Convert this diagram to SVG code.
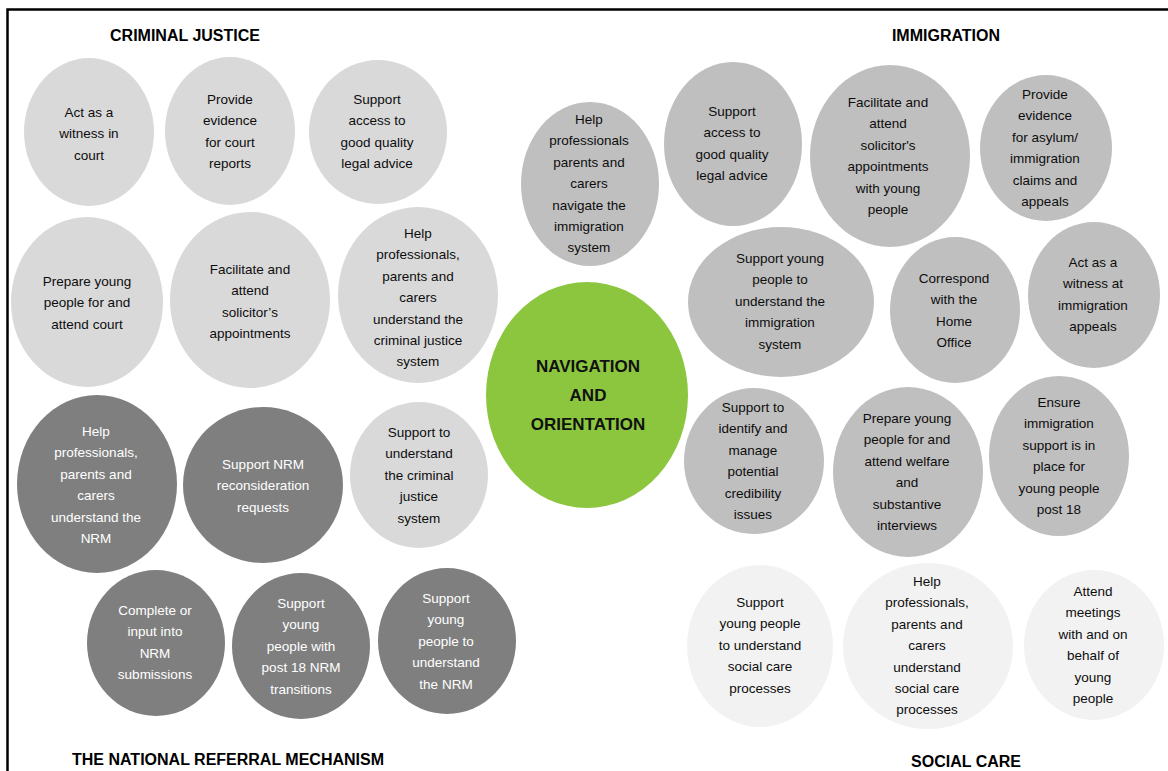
<svg xmlns="http://www.w3.org/2000/svg" width="1168" height="771" viewBox="0 0 1168 771">
<style>
.cj{fill:#d9d9d9}
.nrm{fill:#7f7f7f}
.im{fill:#bfbfbf}
.sc{fill:#f2f2f2}
.hub{fill:#8cc63f}
text{font-family:"Liberation Sans",Arial,sans-serif;font-size:13.5px;text-anchor:middle;fill:#0d0d0d}
.w{fill:#fff}
.title{font-size:16px;font-weight:bold;fill:#000}
.hubt{font-size:17px;font-weight:bold;fill:#111}
</style>
<rect width="1168" height="771" fill="#fff"/>
<path d="M7.5,771 V9.5 H1168" fill="none" stroke="#000" stroke-width="2.5"/>
<g id="connectors"/>

<g id="title-criminal-justice"><text class="title" x="185" y="41">CRIMINAL JUSTICE</text></g>
<g id="title-immigration"><text class="title" x="946" y="41">IMMIGRATION</text></g>
<g id="title-nrm"><text class="title" x="228" y="765">THE NATIONAL REFERRAL MECHANISM</text></g>
<g id="title-social-care"><text class="title" x="966" y="767">SOCIAL CARE</text></g>

<g id="cj1"><ellipse class="cj" cx="89" cy="132" rx="65" ry="74"/>
<text x="89" y="117"><tspan x="89">Act as a</tspan><tspan x="89" dy="21.4">witness in</tspan><tspan x="89" dy="21.4">court</tspan></text></g>
<g id="cj2"><ellipse class="cj" cx="230" cy="131" rx="65" ry="74"/>
<text x="230" y="104"><tspan x="230">Provide</tspan><tspan x="230" dy="21.4">evidence</tspan><tspan x="230" dy="21.4">for court</tspan><tspan x="230" dy="21.4">reports</tspan></text></g>
<g id="cj3"><ellipse class="cj" cx="378" cy="132" rx="69" ry="72"/>
<text x="377" y="104"><tspan x="377">Support</tspan><tspan x="377" dy="21.4">access to</tspan><tspan x="377" dy="21.4">good quality</tspan><tspan x="377" dy="21.4">legal advice</tspan></text></g>
<g id="cj4"><ellipse class="cj" cx="87" cy="302" rx="76" ry="85"/>
<text x="87" y="286"><tspan x="87">Prepare young</tspan><tspan x="87" dy="21.4">people for and</tspan><tspan x="87" dy="21.4">attend court</tspan></text></g>
<g id="cj5"><ellipse class="cj" cx="250" cy="300" rx="80" ry="88"/>
<text x="250" y="274"><tspan x="250">Facilitate and</tspan><tspan x="250" dy="21.4">attend</tspan><tspan x="250" dy="21.4">solicitor’s</tspan><tspan x="250" dy="21.4">appointments</tspan></text></g>
<g id="cj6"><ellipse class="cj" cx="418" cy="295" rx="80" ry="88"/>
<text x="418" y="238"><tspan x="418">Help</tspan><tspan x="418" dy="21.4">professionals,</tspan><tspan x="418" dy="21.4">parents and</tspan><tspan x="418" dy="21.4">carers</tspan><tspan x="418" dy="21.4">understand the</tspan><tspan x="418" dy="21.4">criminal justice</tspan><tspan x="418" dy="21.4">system</tspan></text></g>
<g id="cj7"><ellipse class="cj" cx="419" cy="475" rx="69" ry="73"/>
<text x="419" y="437"><tspan x="419">Support to</tspan><tspan x="419" dy="21.4">understand</tspan><tspan x="419" dy="21.4">the criminal</tspan><tspan x="419" dy="21.4">justice</tspan><tspan x="419" dy="21.4">system</tspan></text></g>

<g id="nrm1"><ellipse class="nrm" cx="97" cy="484" rx="80" ry="89"/>
<text class="w" x="96" y="436"><tspan x="96">Help</tspan><tspan x="96" dy="21.4">professionals,</tspan><tspan x="96" dy="21.4">parents and</tspan><tspan x="96" dy="21.4">carers</tspan><tspan x="96" dy="21.4">understand the</tspan><tspan x="96" dy="21.4">NRM</tspan></text></g>
<g id="nrm2"><ellipse class="nrm" cx="263" cy="485" rx="80" ry="78"/>
<text class="w" x="263" y="469"><tspan x="263">Support NRM</tspan><tspan x="263" dy="21.4">reconsideration</tspan><tspan x="263" dy="21.4">requests</tspan></text></g>
<g id="nrm3"><ellipse class="nrm" cx="156" cy="643" rx="69" ry="73"/>
<text class="w" x="155" y="615"><tspan x="155">Complete or</tspan><tspan x="155" dy="21.4">input into</tspan><tspan x="155" dy="21.4">NRM</tspan><tspan x="155" dy="21.4">submissions</tspan></text></g>
<g id="nrm4"><ellipse class="nrm" cx="301" cy="646" rx="69" ry="73"/>
<text class="w" x="301" y="608"><tspan x="301">Support</tspan><tspan x="301" dy="21.4">young</tspan><tspan x="301" dy="21.4">people with</tspan><tspan x="301" dy="21.4">post 18 NRM</tspan><tspan x="301" dy="21.4">transitions</tspan></text></g>
<g id="nrm5"><ellipse class="nrm" cx="447" cy="641" rx="69" ry="73"/>
<text class="w" x="446" y="603"><tspan x="446">Support</tspan><tspan x="446" dy="21.4">young</tspan><tspan x="446" dy="21.4">people to</tspan><tspan x="446" dy="21.4">understand</tspan><tspan x="446" dy="21.4">the NRM</tspan></text></g>

<g id="hub"><ellipse class="hub" cx="587" cy="395" rx="101" ry="113"/>
<text class="hubt" x="588" y="372"><tspan x="588">NAVIGATION</tspan><tspan x="588" dy="29">AND</tspan><tspan x="588" dy="29">ORIENTATION</tspan></text></g>

<g id="im1"><ellipse class="im" cx="590" cy="184" rx="69" ry="82"/>
<text x="589" y="124"><tspan x="589">Help</tspan><tspan x="589" dy="21.4">professionals</tspan><tspan x="589" dy="21.4">parents and</tspan><tspan x="589" dy="21.4">carers</tspan><tspan x="589" dy="21.4">navigate the</tspan><tspan x="589" dy="21.4">immigration</tspan><tspan x="589" dy="21.4">system</tspan></text></g>
<g id="im2"><ellipse class="im" cx="733" cy="144" rx="69" ry="82"/>
<text x="732" y="116"><tspan x="732">Support</tspan><tspan x="732" dy="21.4">access to</tspan><tspan x="732" dy="21.4">good quality</tspan><tspan x="732" dy="21.4">legal advice</tspan></text></g>
<g id="im3"><ellipse class="im" cx="890" cy="156" rx="80" ry="91"/>
<text x="888" y="107"><tspan x="888">Facilitate and</tspan><tspan x="888" dy="21.4">attend</tspan><tspan x="888" dy="21.4">solicitor's</tspan><tspan x="888" dy="21.4">appointments</tspan><tspan x="888" dy="21.4">with young</tspan><tspan x="888" dy="21.4">people</tspan></text></g>
<g id="im4"><ellipse class="im" cx="1046" cy="148" rx="66" ry="73"/>
<text x="1045" y="99"><tspan x="1045">Provide</tspan><tspan x="1045" dy="21.4">evidence</tspan><tspan x="1045" dy="21.4">for asylum/</tspan><tspan x="1045" dy="21.4">immigration</tspan><tspan x="1045" dy="21.4">claims and</tspan><tspan x="1045" dy="21.4">appeals</tspan></text></g>
<g id="im5"><ellipse class="im" cx="781" cy="302" rx="93" ry="75"/>
<text x="780" y="263"><tspan x="780">Support young</tspan><tspan x="780" dy="21.4">people to</tspan><tspan x="780" dy="21.4">understand the</tspan><tspan x="780" dy="21.4">immigration</tspan><tspan x="780" dy="21.4">system</tspan></text></g>
<g id="im6"><ellipse class="im" cx="955" cy="310" rx="65" ry="73"/>
<text x="954" y="283"><tspan x="954">Correspond</tspan><tspan x="954" dy="21.4">with the</tspan><tspan x="954" dy="21.4">Home</tspan><tspan x="954" dy="21.4">Office</tspan></text></g>
<g id="im7"><ellipse class="im" cx="1094" cy="295" rx="66" ry="73"/>
<text x="1093" y="267"><tspan x="1093">Act as a</tspan><tspan x="1093" dy="21.4">witness at</tspan><tspan x="1093" dy="21.4">immigration</tspan><tspan x="1093" dy="21.4">appeals</tspan></text></g>
<g id="im8"><ellipse class="im" cx="754" cy="461" rx="70" ry="73"/>
<text x="753" y="412"><tspan x="753">Support to</tspan><tspan x="753" dy="21.4">identify and</tspan><tspan x="753" dy="21.4">manage</tspan><tspan x="753" dy="21.4">potential</tspan><tspan x="753" dy="21.4">credibility</tspan><tspan x="753" dy="21.4">issues</tspan></text></g>
<g id="im9"><ellipse class="im" cx="908" cy="472" rx="75" ry="85"/>
<text x="907" y="423"><tspan x="907">Prepare young</tspan><tspan x="907" dy="21.4">people for and</tspan><tspan x="907" dy="21.4">attend welfare</tspan><tspan x="907" dy="21.4">and</tspan><tspan x="907" dy="21.4">substantive</tspan><tspan x="907" dy="21.4">interviews</tspan></text></g>
<g id="im10"><ellipse class="im" cx="1059" cy="456" rx="70" ry="80"/>
<text x="1059" y="407"><tspan x="1059">Ensure</tspan><tspan x="1059" dy="21.4">immigration</tspan><tspan x="1059" dy="21.4">support is in</tspan><tspan x="1059" dy="21.4">place for</tspan><tspan x="1059" dy="21.4">young people</tspan><tspan x="1059" dy="21.4">post 18</tspan></text></g>

<g id="sc1"><ellipse class="sc" cx="760" cy="646" rx="73" ry="81"/>
<text x="760" y="607"><tspan x="760">Support</tspan><tspan x="760" dy="21.4">young people</tspan><tspan x="760" dy="21.4">to understand</tspan><tspan x="760" dy="21.4">social care</tspan><tspan x="760" dy="21.4">processes</tspan></text></g>
<g id="sc2"><ellipse class="sc" cx="928" cy="646" rx="85" ry="83"/>
<text x="927" y="586"><tspan x="927">Help</tspan><tspan x="927" dy="21.4">professionals,</tspan><tspan x="927" dy="21.4">parents and</tspan><tspan x="927" dy="21.4">carers</tspan><tspan x="927" dy="21.4">understand</tspan><tspan x="927" dy="21.4">social care</tspan><tspan x="927" dy="21.4">processes</tspan></text></g>
<g id="sc3"><ellipse class="sc" cx="1094" cy="645" rx="70" ry="75"/>
<text x="1093" y="596"><tspan x="1093">Attend</tspan><tspan x="1093" dy="21.4">meetings</tspan><tspan x="1093" dy="21.4">with and on</tspan><tspan x="1093" dy="21.4">behalf of</tspan><tspan x="1093" dy="21.4">young</tspan><tspan x="1093" dy="21.4">people</tspan></text></g>
</svg>
